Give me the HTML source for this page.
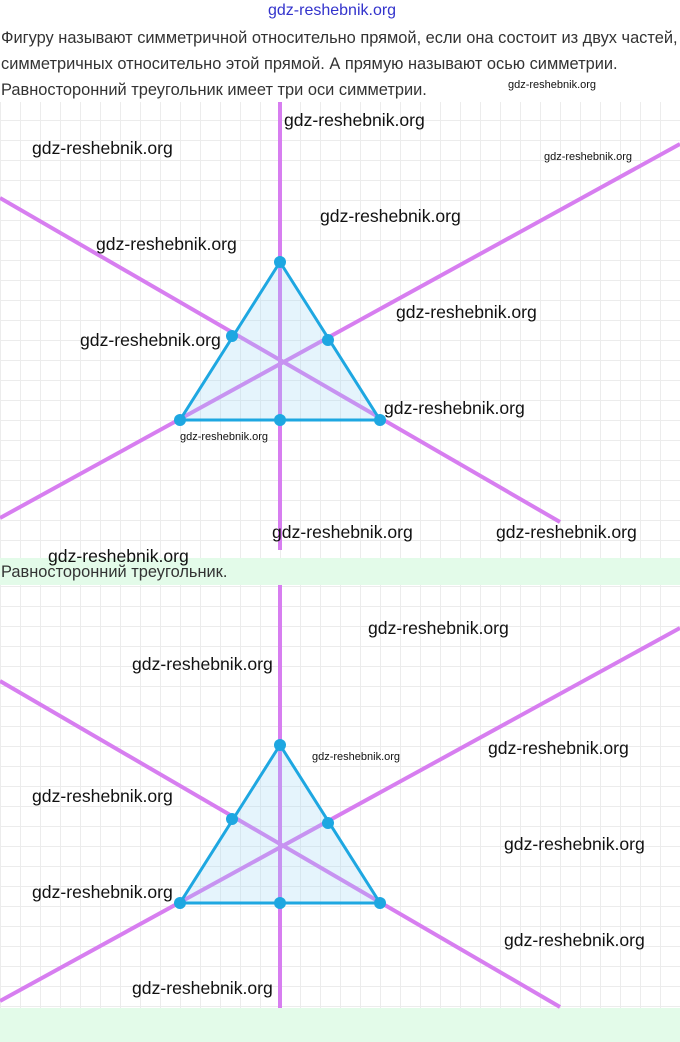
<!DOCTYPE html>
<html><head><meta charset="utf-8"><style>
body{margin:0;width:680px;height:1042px;background:#fff;position:relative;overflow:hidden;font-family:"Liberation Sans",sans-serif}
.t{position:absolute;left:1px;font-size:16.4px;color:#333;white-space:nowrap}
.w{position:absolute;font-family:"Liberation Sans",sans-serif;color:#111;font-size:17.6px;white-space:nowrap}
.s{font-size:11px}
.grid{position:absolute;left:0;width:680px;background-image:linear-gradient(#ececec 1px,transparent 1px),linear-gradient(90deg,#ececec 1px,transparent 1px);background-size:20px 20px}
</style></head><body>
<div style="position:absolute;left:268px;top:2px;font-size:16px;color:#3333cc">gdz-reshebnik.org</div>
<div class="t" style="top:29px">Фигуру называют симметричной относительно прямой, если она состоит из двух частей,</div>
<div class="t" style="top:55px">симметричных относительно этой прямой. А прямую называют осью симметрии.</div>
<div class="t" style="top:81px">Равносторонний треугольник имеет три оси симметрии.</div>
<div class="grid" style="top:102px;height:456px;background-position:0 18px"></div>
<div style="position:absolute;left:0;top:558px;width:680px;height:27px;background:#e3fbe9"></div>
<div class="t" style="top:563px">Равносторонний треугольник.</div>
<div class="grid" style="top:585px;height:423px;background-position:0 1px"></div>
<div style="position:absolute;left:0;top:1008px;width:680px;height:34px;background:#e3fbe9"></div>
<svg style="position:absolute;left:0;top:0" width="680" height="1042">
<g>
<line x1="280" y1="102" x2="280" y2="550" stroke="#d77ef0" stroke-width="4"/>
<line x1="0" y1="198" x2="560" y2="522" stroke="#d77ef0" stroke-width="4"/>
<line x1="0" y1="518" x2="680" y2="144" stroke="#d77ef0" stroke-width="4"/>
<polygon points="280,262 180,420 380,420" fill="rgba(150,210,245,0.25)" stroke="#1ea7e1" stroke-width="3"/>
<g fill="#1ea7e1"><circle cx="280" cy="262" r="6"/><circle cx="180" cy="420" r="6"/><circle cx="380" cy="420" r="6"/><circle cx="280" cy="420" r="6"/><circle cx="232" cy="336" r="6"/><circle cx="328" cy="340" r="6"/></g>
</g>
<g>
<line x1="280" y1="585" x2="280" y2="1008" stroke="#d77ef0" stroke-width="4"/>
<line x1="0" y1="681" x2="560" y2="1007" stroke="#d77ef0" stroke-width="4"/>
<line x1="0" y1="1001" x2="680" y2="628" stroke="#d77ef0" stroke-width="4"/>
<polygon points="280,745 180,903 380,903" fill="rgba(150,210,245,0.25)" stroke="#1ea7e1" stroke-width="3"/>
<g fill="#1ea7e1"><circle cx="280" cy="745" r="6"/><circle cx="180" cy="903" r="6"/><circle cx="380" cy="903" r="6"/><circle cx="280" cy="903" r="6"/><circle cx="232" cy="819" r="6"/><circle cx="328" cy="823" r="6"/></g>
</g>
</svg>
<div class="w s" style="left:508px;top:79px">gdz-reshebnik.org</div>
<div class="w" style="left:284px;top:110px">gdz-reshebnik.org</div>
<div class="w" style="left:32px;top:138px">gdz-reshebnik.org</div>
<div class="w s" style="left:544px;top:151px">gdz-reshebnik.org</div>
<div class="w" style="left:320px;top:206px">gdz-reshebnik.org</div>
<div class="w" style="left:96px;top:234px">gdz-reshebnik.org</div>
<div class="w" style="left:396px;top:302px">gdz-reshebnik.org</div>
<div class="w" style="left:80px;top:330px">gdz-reshebnik.org</div>
<div class="w" style="left:384px;top:398px">gdz-reshebnik.org</div>
<div class="w s" style="left:180px;top:431px">gdz-reshebnik.org</div>
<div class="w" style="left:272px;top:522px">gdz-reshebnik.org</div>
<div class="w" style="left:496px;top:522px">gdz-reshebnik.org</div>
<div class="w" style="left:48px;top:546px">gdz-reshebnik.org</div>
<div class="w" style="left:368px;top:618px">gdz-reshebnik.org</div>
<div class="w" style="left:132px;top:654px">gdz-reshebnik.org</div>
<div class="w" style="left:488px;top:738px">gdz-reshebnik.org</div>
<div class="w s" style="left:312px;top:751px">gdz-reshebnik.org</div>
<div class="w" style="left:32px;top:786px">gdz-reshebnik.org</div>
<div class="w" style="left:504px;top:834px">gdz-reshebnik.org</div>
<div class="w" style="left:32px;top:882px">gdz-reshebnik.org</div>
<div class="w" style="left:504px;top:930px">gdz-reshebnik.org</div>
<div class="w" style="left:132px;top:978px">gdz-reshebnik.org</div>
</body></html>
